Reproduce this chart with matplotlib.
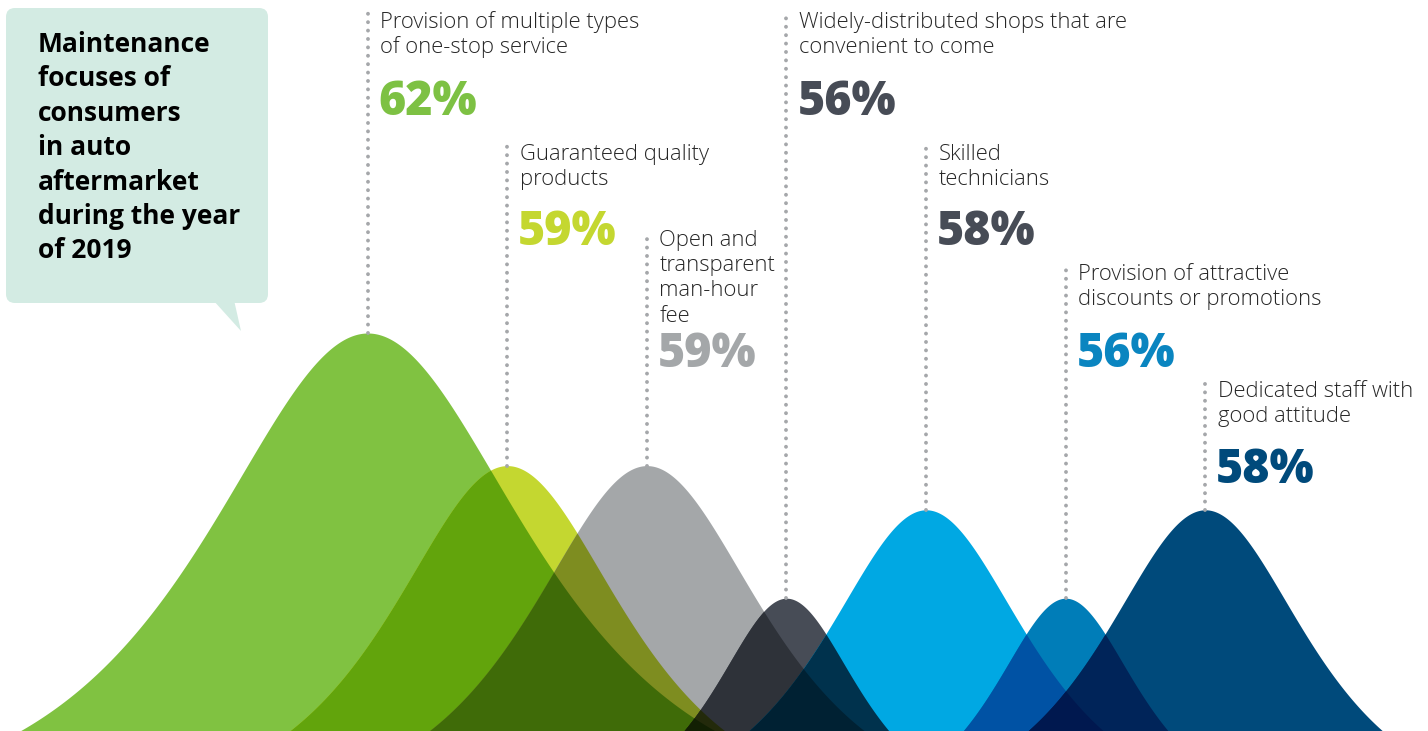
import itertools
import numpy as np
import matplotlib
matplotlib.use("Agg")
import matplotlib.pyplot as plt
import matplotlib.colors as mcolors
from matplotlib.patches import FancyBboxPatch, Polygon

plt.rcParams['font.family'] = ['Open Sans', 'DejaVu Sans']

# survey results
labels = [
    "Provision of multiple types\nof one-stop service",
    "Guaranteed quality\nproducts",
    "Open and\ntransparent\nman-hour\nfee",
    "Widely-distributed shops that are\nconvenient to come",
    "Skilled\ntechnicians",
    "Provision of attractive\ndiscounts or promotions",
    "Dedicated staff with\ngood attitude",
]
values = [62, 59, 59, 56, 58, 56, 58]
hill_colors = ['#80c241', '#c4d730', '#a4a7a9', '#474c56', '#00a8e3', '#007db8', '#004a7b']
pct_colors = ['#7dc143', '#c4d730', '#a4a7a9', '#474c56', '#474c56', '#0a85c0', '#004a7b']
title = "Maintenance\nfocuses of\nconsumers\nin auto\naftermarket\nduring the year\nof 2019"

# layout (pixels from top of the figure)
W, H = 1428, 731
label_base = [28, 160, 246, 28, 160, 280, 397]   # first text baseline
pct_base = [115, 245, 367, 115, 245, 367, 483]
line_top = [12, 143, 232, 12, 143, 265, 382]

floor = 51.14         # value where the hills meet the ground
px_per_pt = 44.2      # vertical pixels per percentage point
x0_px, dx_px = 367.6, 139.6
width_k = 0.0935      # hill half-width per point of height


def py2v(py):
    return floor + (813 - py) / px_per_pt


def px2x(px):
    return (px - x0_px) / dx_px


fig = plt.figure(figsize=(W / 100, H / 100), dpi=100)
ax = fig.add_axes([0, 0, 1, 1])
ax.set_xlim(px2x(0), px2x(W))
ax.set_ylim(py2v(H), py2v(0))
ax.axis('off')

# hills (sech profile), overlaps drawn with multiplied colours
xs = np.linspace(px2x(0), px2x(W), 3000)
curves = []
for i, v in enumerate(values):
    a = width_k * (v - floor)
    curves.append(floor + (v - floor) / np.cosh((xs - i) / a))
rgb = [np.array(mcolors.to_rgb(c)) for c in hill_colors]
ybot = py2v(H) - 1
n = len(values)
for k in range(1, n + 1):
    for combo in itertools.combinations(range(n), k):
        top = np.min([curves[i] for i in combo], axis=0)
        if top.max() <= ybot + 1:
            continue
        col = np.prod([rgb[i] for i in combo], axis=0)
        ax.fill_between(xs, ybot, np.maximum(top, ybot), color=col, lw=0)

# dotted leader lines and labels
for i, v in enumerate(values):
    ax.plot([i, i], [v, py2v(line_top[i])], color='#a5a7aa', lw=2.8,
            linestyle=(0, (0.01, 2.15)), dash_capstyle='round', zorder=5)
    tx = i + 12.5 / dx_px
    for j, line in enumerate(labels[i].split('\n')):
        ax.text(tx, py2v(label_base[i] + 25.2 * j), line, fontsize=15.8,
                fontweight='light', color='#262626', va='baseline', ha='left')
    ax.text(tx - 1.5 / dx_px, py2v(pct_base[i]), f"{v}%", fontsize=33.5,
            fontweight='heavy', color=pct_colors[i], va='baseline', ha='left')

# callout box in pixel space
ov = fig.add_axes([0, 0, 1, 1])
ov.set_xlim(0, W)
ov.set_ylim(H, 0)
ov.axis('off')
ov.patch.set_alpha(0)
ov.add_patch(FancyBboxPatch((6, 8), 262, 295, boxstyle="round,pad=0,rounding_size=9",
                            fc='#d3ebe3', ec='none'))
ov.add_patch(Polygon([(213, 300), (234, 300), (241, 331)], closed=True,
                     fc='#d3ebe3', ec='none'))
for j, line in enumerate(title.split('\n')):
    ov.text(38, 52 + 34.4 * j, line, fontsize=19, fontweight='bold',
            color='#000000', va='baseline', ha='left')

fig.savefig("out.png", dpi=100)
